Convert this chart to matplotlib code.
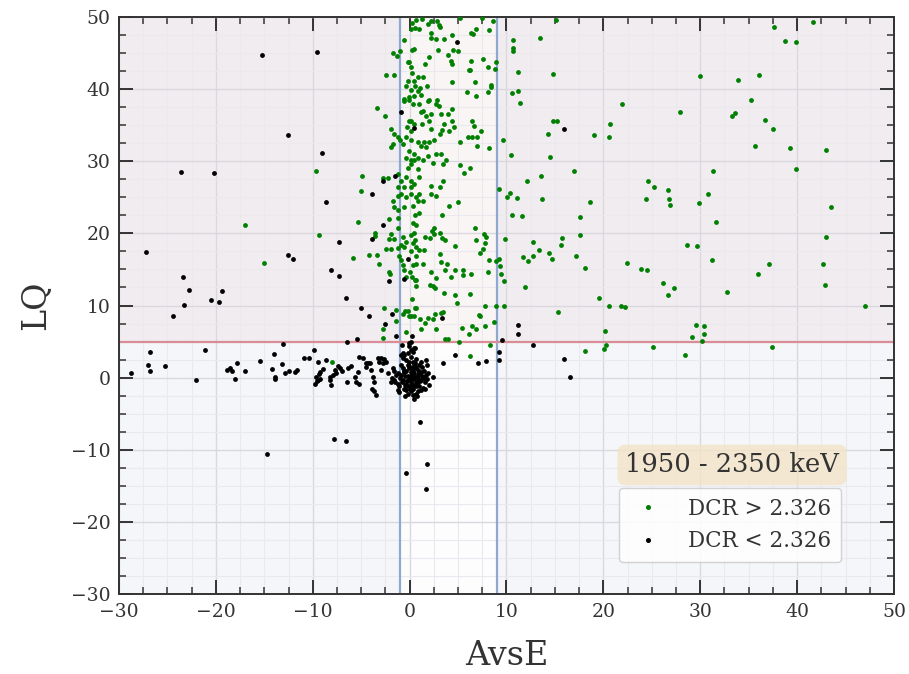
import matplotlib
matplotlib.use("Agg")
import matplotlib.pyplot as plt
from matplotlib.ticker import MultipleLocator
from matplotlib.lines import Line2D

plt.rcParams["font.family"] = ["DejaVu Serif"]

# ---- data -------------------------------------------------------------
x_range = (-30, 50)
y_range = (-30, 50)
avse_cut = (-1, 9)
lq_cut = 5
energy_window = "1950 - 2350 keV"
labels = ["DCR > 2.326", "DCR < 2.326"]

high_dcr_avse = [
    -9.7, -4.9, -5.05, -3.37, -2.54, -2.75, -2.27, -1.72, -1.34, -1.03, -2.44, -1.58,
    5.16, 7.43, 8.64, 15.07, 6.33, 6.54, 6.81, 8.19, 10.67, 13.45, 10.63, 10.63, 8.9, 8.78,
    8.12, 11.18, 14.76, 8.43, 8.43, 8.08, 10.53, 11.18, 11.36, 6.88, 5.88, 6.71, 6.26, 6.12,
    6.36, 7.57, 5.02, 5.23, 6.19, 5.61, 5.23, 6.47, 6.95, 6.95, 7.33, 6.64, 6.47, 6.02, 8.23,
    9.63, 10.5, 13.59, 14.45, 14.28, 14.76, 15.24, 16.99, 4.4, 4.4,
    37.66, 41.6, 38.8, 39.9, 29.94, 33.93, 36.03, 35.27, 33.24, 33.55, 36.71, 37.54, 35.65,
    39.23, 42.97, 39.88, 21.95, 27.9, 20.72, 19.03, 20.54, 31.31, 24.57, 25.22, 26.63, 24.36,
    26.81, 30.79,
    26.91, 29.83, 31.59, 43.53, 42.94, 42.67, 42.91, 47.0, 18.58, 17.58, 17.55, 15.76, 15.59,
    17.2, 18.1, 22.4, 23.84, 24.46, 28.59, 29.7, 31.2, 26.12, 27.25, 26.63, 32.72, 35.95,
    37.09, 19.54, 20.61, 21.81, 22.27, 20.2, 20.23, 20.1, 18.07, 25.12, 28.42, 29.52, 30.35,
    30.35, 29.18, 30.21, 37.4,
    9.26, 10.36, 10.08, 11.11, 13.7, 12.15, 10.53, 11.63, 9.84, 12.77, 13.32, 14.35, 14.66,
    11.7, 12.7, 12.25, 9.26, 9.36, 8.91, 9.39, 9.7, 11.9, 9.7, 8.95, 15.35, 8.74, 8.33,
    6.78, 7.64, 7.92, 7.81, 6.88, 7.23, 7.57, 8.19, 8.05, 6.27, 7.77, 7.15, 7.23, 7.74, 6.88,
    6.46, 6.12, 5.4, 4.92, 4.72, 3.58, 4.65, 4.95, 4.1, 3.33, 3.16, 3.37, 3.68, 2.51, 2.34,
    2.1, 1.55, 2.48, 1.51, 3.1, 3.27, 3.89, 4.68, 5.5, 5.5, 6.36, 4.3, 3.65, 2.75, 2.24, 2.14,
    2.58, 2.4, 1.38, 0.69, 0.62, 0.62, 0.21, 3.2, 3.44, 2.65, 1.89, 2.4, 1.55, 1.1, 0.44,
    0.17, -0.17, 0.52, 0.62, 2.68, 1.2, -2.65, 6.19, 5.06, 3.99, 3.61, -2.75, -0.34,
    0.52, 0.96, 0.34, 0.62, 0.45, 0.17, 0.52, 0.34, 0.62, 0.96, 0.69, 0.17, 0.34, 0.07, 0.24,
    0.52,
    -17.0, -15.0, -9.4, -5.3, -5.85, -4.2, -3.4, -3.2, -3.6, -3.55, -8.0, -1.45, -1.4,
    -2.1, -1.17, -1.93, -2.15, -1.65, -1.17, -0.72, -0.55, -0.9, -0.38, -1.24, -1.07, -1.93,
    -2.44, -2.1, -2.0, -0.9, -0.72, -0.55, -0.38, -0.72, -0.1, -0.45, -2.79,
    0.65, 1.27, 2.2, 2.82, 3.06, 1.86, 1.0, 0.59, 0.21, 0.14, 4.34, 3.17, 2.72, 2.2, 3.58,
    2.2, -0.62, 0.48, 0.28, 2.03, 2.89, 3.92, 4.44, 4.37, 4.27, 1.62, -0.03, -0.21, 0.14,
    0.24, 0.83, 1.34, 1.79, 0.48, -0.21, -0.38, 0.59, 1.1, 0.14, 0.9, 1.17, 0.48, -0.1, -0.55,
    -0.03, -0.62, 0.31, 1.0, 1.86, 2.03, 2.82, 2.72, 2.99, 1.34, 1.17, 1.69, 2.2, 3.23, 3.92,
    4.34, 4.54, 3.58, 4.1, 3.33, 3.17, 2.03, 2.2, 1.24, 0.14, 0.48, -0.1, -0.28, 0.14, -0.38,
    -1.24, -1.58, -1.93, -1.75, -1.93, -0.96, -0.72, 0.14, 0.83, 1.52, 2.03, 2.55, 1.69, 1.17,
    0.48, -0.03, -0.38, 0.14, 0.48, 0.14, -0.21, 0.83, 1.34, 1.86, 2.72, 3.23, 2.37, 3.41,
    3.75, 0.83, 1.0, 0.14, -0.38, -1.24, -0.89, -1.24, -0.55, 0.14, 0.48, 1.0, 0.65, 0.14,
    -0.38, -0.89, -1.24, -1.75, -1.58, -1.24, -0.55, 0.31, 0.83, 1.34, 2.2, 2.72, 3.17, 3.41,
    2.2,
]
high_dcr_lq = [
    28.7, 28.0, 25.8, 37.3, 36.3, 27.7, 27.6, 45.0, 44.5, 45.3, 41.9, 41.9,
    49.8, 49.8, 49.4, 49.6, 47.8, 47.6, 48.3, 48.1, 46.8, 47.0, 45.6, 45.2, 43.7, 42.7,
    43.1, 42.3, 42.0, 40.5, 40.3, 39.6, 39.4, 39.7, 38.1, 39.0, 39.6, 41.0, 42.6, 42.6,
    43.9, 44.1, 45.2, 29.4, 29.1, 28.4, 32.6, 33.3, 33.3, 32.1, 34.2, 34.8, 35.6, 33.3, 31.8,
    32.9, 30.9, 27.9, 30.6, 33.8, 35.5, 35.5, 28.6, 41.0, 37.2,
    48.6, 49.3, 46.6, 46.5, 41.8, 41.3, 41.9, 38.4, 36.2, 36.7, 35.7, 34.5, 32.1,
    31.8, 31.5, 28.9, 37.9, 36.8, 35.1, 33.6, 33.4, 28.6, 27.3, 26.4, 26.0, 24.8,
    24.8, 25.5,
    23.9, 24.2, 21.5, 23.6, 19.5, 15.8, 12.9, 10.0, 24.3, 22.3, 19.7, 19.4, 18.4,
    16.9, 15.2, 15.9, 15.1, 14.9, 18.4, 18.2, 16.3, 13.1, 12.4, 11.5, 11.9, 14.3,
    15.7, 11.0, 10.0, 10.0, 9.8, 6.5, 4.5, 4.0, 3.7, 4.3, 3.2, 7.3, 7.1,
    6.0, 5.6, 5.1, 4.3,
    26.2, 25.6, 25.0, 24.9, 24.8, 27.2, 22.5, 22.4, 19.2, 18.8, 17.7, 17.3, 16.4,
    16.7, 16.8, 16.2, 16.4, 15.5, 16.2, 14.3, 13.4, 12.6, 10.0, 9.9, 9.1, 7.7, 4.6,
    20.8, 19.9, 19.5, 18.6, 19.1, 17.3, 17.8, 16.3, 14.6, 11.6, 9.9, 8.7, 8.5, 7.1, 6.8,
    7.1, 6.1, 6.9, 10.3, 11.4, 11.7, 18.3, 24.3, 23.8, 22.6, 20.1, 19.3, 19.1, 19.9, 20.3,
    19.3, 19.5, 20.8, 17.7, 17.2, 16.0, 15.8, 14.9, 14.9, 14.2, 14.4, 14.0, 14.9, 13.8, 14.7, 12.8,
    12.4, 12.7, 15.7, 15.8, 13.6, 12.7, 10.9, 9.0, 9.1, 8.8, 8.3, 8.1, 7.6, 8.1, 8.5,
    8.5, 9.2, 9.6, 9.7, 6.8, 6.7, 9.7, 3.0, 4.9, 5.4, 5.4, 5.5, 6.3,
    22.5, 22.8, 21.4, 21.2, 20.0, 19.8, 19.1, 18.6, 18.1, 17.7, 16.8, 17.5, 15.6, 14.7, 14.0,
    13.5,
    21.2, 15.9, 19.8, 21.5, 16.6, 17.0, 17.0, 15.7, 20.0, 19.6, 2.2, 9.4, 7.9,
    22.0, 22.1, 19.9, 19.2, 19.2, 20.7, 19.5, 18.1, 18.4, 18.8, 17.9, 16.8, 17.8,
    17.8, 14.7, 14.4, 16.3, 15.6, 14.9, 14.0, 8.8, 8.6, 9.3, 6.7,
    49.6, 49.7, 49.4, 49.4, 48.8, 49.0, 48.3, 48.5, 49.1, 48.3, 47.5, 48.6, 46.9, 47.1, 46.9,
    47.8, 46.8, 45.5, 45.4, 44.4, 45.4, 44.7, 45.4, 43.5, 43.9, 43.4, 43.7, 43.7, 43.0,
    42.2, 41.6, 41.7, 40.4, 41.1, 41.1, 40.4, 40.4, 40.1, 39.8, 39.7, 39.2, 39.0, 38.9, 38.6,
    38.4, 38.3, 37.9, 37.9, 38.3, 38.5, 38.5, 37.9, 37.7, 37.0, 36.8, 36.3, 36.5, 36.5, 36.5,
    35.6, 34.7, 35.1, 34.2, 34.3, 33.8, 35.5, 34.4, 35.1, 35.6, 35.1, 35.5, 34.7, 34.2, 33.3,
    33.3, 33.8, 34.4, 32.4, 31.9, 32.9, 32.4, 32.9, 32.6, 32.6, 32.6, 32.9, 31.9, 32.1,
    31.0, 31.4, 30.5, 30.1, 30.1, 29.6, 29.1, 30.5, 30.1, 30.7, 31.0, 31.0, 29.8, 29.6,
    30.1, 28.9, 27.8, 27.3, 27.8, 28.2, 27.3, 26.4, 26.4, 26.4, 26.8, 25.4, 25.0, 25.4,
    25.0, 25.4, 25.2, 24.5, 23.6, 23.2, 23.6, 23.8, 24.5, 24.5, 25.4, 25.2, 26.4, 27.3,
    26.6,
]

low_dcr_avse = [
    -15.27, -9.56, -12.59, -9.0, -23.6, -20.2, -3.9, -2.75, -1.54, -0.86, 0.48, 4.85, 15.9,
    -27.2, -23.4, -22.8, -23.3, -24.4, -20.5, -19.7, -19.4, -12.6, -12.0, -8.6, -7.3, -8.15,
    -7.33, -6.54, -5.06, -4.2, -3.89, -6.5, -5.4, -13.1, -21.1, -26.8, -27.0, -26.8, -25.3,
    -28.8, -14.0, -15.4, -17.8, -18.9, -18.5, -18.3, -17.0, -22.0, -18.0, -14.2, -13.2,
    -12.9, -12.4, -13.9, -13.9, -11.8, -11.6, -10.9, -10.4, -9.9, -9.5, -8.6,
    -9.8, -9.6, -9.5, -9.3, -9.7, -9.4, -9.2, -8.9, -8.26, -8.2, -8.1, -7.9, -7.6, -7.7,
    -7.4, -7.2, -7.0, -6.5, -6.4, -6.1, -5.6, -5.5, -5.2, -5.3, -5.2, -4.8, -4.5, -4.5,
    -4.3, -4.0, -4.1, -3.8, -3.7, -3.85, -3.7, -3.5,
    -7.8, -6.6, -14.7,
    -3.3, -2.96, -2.61, -2.44, -3.13, -2.79, -2.96, -2.27, -1.75, -1.58, -1.41, -1.65,
    -1.93, -1.24, -1.07, -1.07, -1.55, -1.2, -1.8,
    -2.72, -0.14, -2.1, -0.62, -1.86, -2.55, -1.41,
    0.14, -0.03, -0.83, -0.72, 0.14, 0.52, -0.07, 0.28,
    11.18, 11.15, 12.73, 9.57, 9.22, 9.22, 15.93, 16.59, 7.88, 7.09, 4.68, 3.48, 3.33,
    1.03, 1.75, -0.34, 1.69,
    -0.9, -0.72, -0.55, -0.38, -0.21, -0.03, 0.14, 0.31, 0.48, 0.65, 0.83, 1.0, 1.17, 0.31,
    0.48, 0.65, 0.83, 0.14, -0.03, -0.21, -0.38, 0.31, 0.65, 1.0, 1.34, 1.17, 1.52, 1.79,
    1.69, 2.37, 0.41, -0.62, -0.9, -0.21, 0.14, 0.31, 0.41,
    1.2, 0.69, 0.17, -0.34, -0.52, -0.69, 1.72, 1.55, 0.52, -0.69,
    0.0, 0.2, -0.2, 0.5, 0.9, 1.3, -0.4, 0.7, 1.2, 0.0, -0.1, 0.9, 0.4, 1.5, -0.6, 0.2,
    -1.0, -0.8, -0.5, -0.3, 0.1, 0.3, 0.6, 0.8, 1.1, 1.4, 1.6, 1.9, 0.5, 0.0, -0.4,
    0.9, 0.3, -0.2, 1.3, 0.6, -0.1, -0.6, -0.9, 0.2, 1.0, 1.8, 2.0, -1.2, -0.5, 0.8,
]
low_dcr_lq = [
    44.7, 45.1, 33.66, 31.1, 28.5, 28.4, 25.5, 27.3, 27.9, 36.8, 34.6, 46.5, 34.5,
    17.4, 13.9, 12.1, 10.1, 8.6, 10.8, 10.5, 12.0, 17.0, 16.5, 24.3, 18.8, 14.9,
    14.1, 11.1, 9.6, 8.5, 19.2, 4.9, 5.3, 4.7, 3.9, 3.5, 1.8, 0.9, 1.6,
    0.65, 3.3, 2.3, 2.1, 1.1, 1.4, 0.9, 0.9, -0.3, -0.2, 1.2, 1.9,
    0.65, 0.9, 0.1, -0.2, 0.8, 1.1, 2.8, 2.8, 3.9, 2.2, 2.5,
    -0.8, -0.4, -0.3, -0.2, 0.1, 0.5, 0.8, 1.2, -0.3, 0.05, -1.0, 0.4, 0.6, 1.1,
    1.6, 1.3, 1.0, -0.55, 1.3, 1.6, 0.15, -0.55, -0.8, 0.8, 2.9, 2.8, 2.0, 1.5,
    2.1, 1.1, 2.0, 0.15, -0.55, -1.5, -1.9, -2.4,
    -8.5, -8.8, -10.5,
    2.7, 2.8, 2.6, 2.2, 2.2, 2.0, 1.1, 0.6, 1.3, 1.0, 0.4, -0.3,
    -0.6, -0.8, -1.2, -2.0, -0.55, -1.7, -0.1,
    21.1, 16.5, 13.4, 13.7, 8.8, 7.5, 5.8,
    5.0, 4.8, 4.5, 3.4, 3.9, 4.1, 4.4, 5.8,
    7.3, 6.1, 4.5, 5.2, 3.6, 2.5, 2.6, 0.1, 2.3, 2.0, 3.2, 2.1, 8.3,
    -6.1, -12.0, -13.2, -15.4,
    0.4, 1.3, 0.8, 2.5, 1.8, 1.3, 0.8, 2.2, 1.8, 1.4, 1.1, 1.8, 0.8, 0.1,
    -0.1, -0.6, 0.4, -0.6, -1.2, -0.3, -0.8, -1.5, -1.2, -1.2, -1.4, -0.3, -0.1, 1.8,
    0.4, 0.1, -2.9, 3.1, 3.1, 3.4, 2.9, 3.6, 4.1,
    -1.7, -2.2, -1.9, -1.7, -1.0, -0.3, 2.5, -1.5, 1.5, 2.7,
    0.0, 0.5, 0.3, 0.6, -0.4, 0.3, 1.0, 2.6, 2.2, -0.3, 2.2, 0.0, 1.0, 0.9, -1.5, -1.0,
    0.0, -0.6, 0.2, -0.4, 0.3, -0.2, 0.1, -0.8, -0.5, 0.1, -0.6, 0.6, -1.0, -1.5, -1.2,
    -1.8, -2.4, -2.3, 1.5, 2.0, 1.6, 0.9, 1.7, 1.3, 0.6, -0.2, -1.0, 0.6, -2.6, -2.6,
]

# ---- figure -----------------------------------------------------------
fig = plt.figure(figsize=(9.09, 6.74), dpi=100)
ax = fig.add_axes([0.1309, 0.1182, 0.8526, 0.857])

# shaded acceptance regions
ax.axhspan(y_range[0], lq_cut, color="#f5f6fa", zorder=0, lw=0)
ax.axhspan(lq_cut, y_range[1], color="#f1ecf0", zorder=0, lw=0)
ax.fill_between(avse_cut, y_range[0], lq_cut, color="#fdfdfe", zorder=0.1, lw=0)
ax.fill_between(avse_cut, lq_cut, y_range[1], color="#faf5f5", zorder=0.1, lw=0)

ax.set_axisbelow(True)
ax.grid(which="major", color="#d8d8de", lw=1.0, zorder=0.5)
ax.grid(which="minor", color="#e9e9ee", lw=0.8, zorder=0.5)

for xc in avse_cut:
    ax.axvline(xc, color="#8ea8cf", lw=1.6, zorder=2)
ax.axhline(lq_cut, color="#d98d97", lw=1.6, zorder=2)

ax.scatter(high_dcr_avse, high_dcr_lq, s=12, color="green", lw=0, zorder=3)
ax.scatter(low_dcr_avse, low_dcr_lq, s=12, color="black", lw=0, zorder=3)

ax.set_xlim(*x_range)
ax.set_ylim(*y_range)
ax.xaxis.set_major_locator(MultipleLocator(10))
ax.xaxis.set_minor_locator(MultipleLocator(2.5))
ax.yaxis.set_major_locator(MultipleLocator(10))
ax.yaxis.set_minor_locator(MultipleLocator(2.5))
ax.tick_params(which="both", direction="in", top=True, right=True,
               colors="#333333", labelsize=13.5)
ax.tick_params(which="major", length=10, width=1.4, pad=6)
ax.tick_params(which="minor", length=5, width=1.1)
for sp in ax.spines.values():
    sp.set_color("#333333")
    sp.set_linewidth(1.4)

ax.set_xlabel("AvsE", fontsize=24, color="#333333", labelpad=14)
ax.set_ylabel("LQ", fontsize=24, color="#333333", labelpad=14)

handles = [
    Line2D([], [], ls="", marker="o", color="green", markersize=2.6),
    Line2D([], [], ls="", marker="o", color="black", markersize=2.6),
]
leg = ax.legend(handles, labels, loc="lower right", bbox_to_anchor=(0.932, 0.056),
                borderaxespad=0, fontsize=15.5, handletextpad=0.92, handlelength=1.88,
                borderpad=0.45, labelspacing=0.5, frameon=True, fancybox=True,
                framealpha=0.85, facecolor="white", edgecolor="#cccccc")
for t in leg.get_texts():
    t.set_color("#333333")

ax.text(0.791, 0.224, energy_window, transform=ax.transAxes, fontsize=18.5,
        color="#333333", ha="center", va="center", zorder=5,
        bbox=dict(boxstyle="round,pad=0.3", fc="#f3e4c8", ec="none", alpha=0.8))

fig.savefig("out.png", dpi=100)
